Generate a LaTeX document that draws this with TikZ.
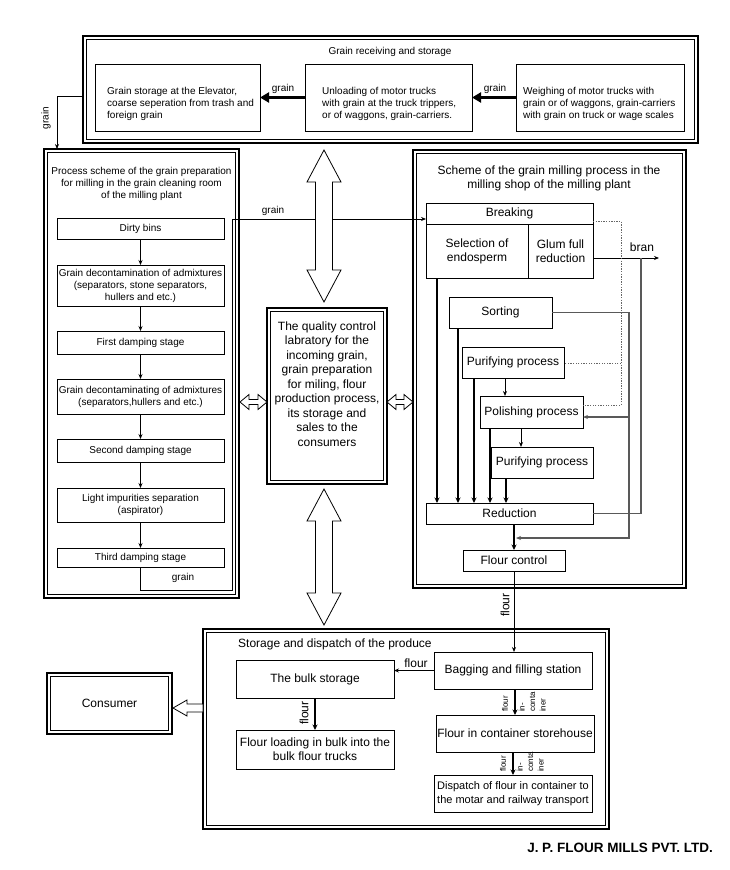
\documentclass[tikz,border=0pt]{standalone}
\usepackage{fontspec}
\setmainfont{Liberation Sans}
\usetikzlibrary{arrows.meta,calc}
\newcommand{\innerbox}[1]{\draw[line width=0.7pt] ($(#1.north west)+(3.5,3.5)$) rectangle ($(#1.south east)+(-3.5,-3.5)$);}
\begin{document}
\begin{tikzpicture}[x=1pt,y=-1pt,
  every node/.style={font=\fontsize{10pt}{12pt}\selectfont},
  fa/.style={font=\fontsize{12pt}{14pt}\selectfont},
  fb/.style={font=\fontsize{11pt}{14pt}\selectfont},
  fs/.style={font=\fontsize{8pt}{10.5pt}\selectfont},
  bx/.style={draw, line width=0.8pt, inner sep=0pt, outer sep=0pt, align=center},
  dbx/.style={draw, line width=1.1pt, inner sep=0pt, outer sep=0pt, align=center},
  txt/.style={inner sep=0pt, align=center},
  ar/.style={line width=0.8pt, -{Stealth[length=5pt,width=4pt]}},
  tk/.style={line width=1.5pt, -{Stealth[length=5.5pt,width=5pt]}},
  bigar/.style={line width=3pt, -{Triangle[length=9pt,width=10pt]}},
  gl/.style={draw=black!65, line width=1.3pt},
  gla/.style={gl, -{Stealth[length=5pt,width=4pt]}},
  dt/.style={draw=black!60, line width=1pt, dash pattern=on 1.3pt off 1.3pt},
  hol/.style={draw, line width=0.8pt, fill=white}
]
\fill[white] (0,0) rectangle (730,870);
\useasboundingbox (0,0) rectangle (730,870);

% ---------- top section ----------
\node[dbx, minimum width=615, minimum height=107] (top) at (390.5,89.5) {};
\innerbox{top}
\node[txt] (toptitle) at (390,52) {Grain receiving and storage};
\node[bx, minimum width=165, minimum height=67] (ga) at (177.5,97.5) {};
\node[txt, align=left, anchor=north west] (gat) at (107,87) {Grain storage at the Elevator,\\coarse seperation from trash and\\foreign grain};
\node[bx, minimum width=167, minimum height=67] (gb) at (388.5,97.5) {};
\node[txt, align=left, anchor=north west] (gbt) at (322,87) {Unloading of motor trucks\\with grain at the truck trippers,\\or of waggons, grain-carriers.};
\node[bx, minimum width=168, minimum height=67] (gc) at (600,97.5) {};
\node[txt, align=left, anchor=north west] (gct) at (523,87) {Weighing of motor trucks with\\grain or of waggons, grain-carriers\\with grain on truck or wage scales};
\draw[bigar] (gb.west) -- (ga.east);
\draw[bigar] (gc.west) -- (gb.east);
\node[txt] (lg1) at (283,89) {grain};
\node[txt] (lg2) at (495,89) {grain};

% ---------- left section ----------
\node[dbx, minimum width=195, minimum height=449] (left) at (141.5,373.5) {};
\innerbox{left}
\coordinate (tl) at (57,96);
\draw[ar] (top.west |- tl) -- (tl) -- (tl |- left.north);
\node[txt, rotate=90] (lg0) at (46,118) {grain};
\node[txt] (lt) at (141.5,184) {Process scheme of the grain preparation\\for milling in the grain cleaning room\\of the milling plant};
\node[bx, minimum width=167, minimum height=21] (b1) at (140.5,228.5) {Dirty bins};
\node[bx, minimum width=167, minimum height=41] (b2) at (140.5,285.5) {Grain decontamination of admixtures\\(separators, stone separators,\\hullers and etc.)};
\node[bx, minimum width=167, minimum height=23] (b3) at (140.5,342.5) {First damping stage};
\node[bx, minimum width=167, minimum height=35] (b4) at (140.5,396.5) {Grain decontaminating of admixtures\\(separators,hullers and etc.)};
\node[bx, minimum width=167, minimum height=23] (b5) at (140.5,450.5) {Second damping stage};
\node[bx, minimum width=167, minimum height=34] (b6) at (140.5,505) {Light impurities separation\\(aspirator)};
\node[bx, minimum width=167, minimum height=19] (b7) at (140.5,557.5) {Third damping stage};
\draw[ar] (b1) -- (b2);
\draw[ar] (b2) -- (b3);
\draw[ar] (b3) -- (b4);
\draw[ar] (b4) -- (b5);
\draw[ar] (b5) -- (b6);
\draw[ar] (b6) -- (b7);

% ---------- right section ----------
\node[dbx, minimum width=273, minimum height=438] (right) at (549.5,369) {};
\innerbox{right}
\node[txt, font=\fontsize{12pt}{13.5pt}\selectfont] (rt) at (549,178.5) {Scheme of the grain milling process in the\\milling shop of the milling plant};
\node[bx, fa, minimum width=167, minimum height=21] (brk) at (509.5,213.5) {Breaking};
\node[bx, fa, minimum width=102, minimum height=54] (sel) at (477,251) {Selection of\\endosperm};
\node[bx, fa, minimum width=65, minimum height=54] (glum) at (560.5,251) {Glum full\\reduction};
\node[bx, fa, minimum width=103, minimum height=31] (sort) at (500.5,312.5) {Sorting};
\node[bx, fa, minimum width=102, minimum height=31] (pur1) at (513,362.5) {Purifying process};
\node[bx, fa, minimum width=103, minimum height=32] (pol) at (531.5,412) {Polishing process};
\node[bx, fa, minimum width=102, minimum height=31] (pur2) at (542,462.5) {Purifying process};
\node[bx, fa, minimum width=167, minimum height=21] (red) at (509.5,513.5) {Reduction};
\node[bx, fa, minimum width=102, minimum height=21] (fc) at (514,560.5) {Flour control};

% grain from cleaning room to breaking
\coordinate (gcr) at (232,590);
\coordinate (gin) at (426,219);
\draw[ar] (b7.south) |- (gcr) |- (gin);
\node[txt] (lg3) at (183,578) {grain};
\node[txt] (lg4) at (273,211) {grain};

% arrows into reduction
\coordinate (xa) at (437,0);
\coordinate (xb) at (458,0);
\coordinate (xc) at (474,0);
\coordinate (xd) at (490,0);
\coordinate (xe) at (506,0);
\coordinate (xf) at (505,0);
\coordinate (xg) at (521,0);
\coordinate (fx) at (514,0);
\draw[tk] (sel.south -| xa) -- (red.north -| xa);
\draw[tk] (sort.south -| xb) -- (red.north -| xb);
\draw[tk] (pur1.south -| xc) -- (red.north -| xc);
\draw[tk] (pol.south -| xd) -- (red.north -| xd);
\draw[tk] (pur2.south -| xe) -- (red.north -| xe);
\draw[ar] (pur1.south -| xf) -- (pol.north -| xf);
\draw[ar] (pol.south -| xg) -- (pur2.north -| xg);
\draw[tk] (red.south -| fx) -- (fc.north -| fx);

% bran
\coordinate (bran) at (659,258);
\draw[ar] (glum.east |- bran) -- (bran);
\node[txt, fa] (lbran) at (642,247) {bran};
\coordinate (vb) at (641,258);
\draw[gl] (red.east) -| (vb);

% sorting return lines
\coordinate (vs) at (629,538);
\coordinate (fj) at (516,538);
\coordinate (vp) at (629,417);
\draw[gla] (sort.east) -| (vs) -- (fj);
\draw[gla] (vp) -- (vp -| pol.east);

% dotted lines
\coordinate (dt1) at (621,221);
\coordinate (dp) at (621,405);
\coordinate (dq) at (621,363);
\draw[dt] (brk.east |- dt1) -- (dt1) -- (dp) -- (dp -| pol.east);
\draw[dt] (dq) -- (dq -| pur1.east);

% ---------- laboratory ----------
\node[dbx, minimum width=120, minimum height=176] (lab) at (327,396) {};
\innerbox{lab}
\node[txt, font=\fontsize{12pt}{14.5pt}\selectfont] (labt) at (327,384) {The quality control\\labratory for the\\incoming  grain,\\grain preparation\\for miling, flour\\production process,\\its storage and\\sales to the\\consumers};

% big hollow double arrows
\draw[hol] (324,150) -- (341,182) -- (332.5,182) -- (332.5,270) -- (341,270) -- (324,302) -- (307,270) -- (315.5,270) -- (315.5,182) -- (307,182) -- cycle;
\draw[hol] (324,489) -- (341,521) -- (332.5,521) -- (332.5,593) -- (341,593) -- (324,625) -- (307,593) -- (315.5,593) -- (315.5,521) -- (307,521) -- cycle;
\draw[hol] (240,402) -- (249,394.5) -- (249,399.5) -- (258,399.5) -- (258,394.5) -- (267,402) -- (258,409.5) -- (258,404.5) -- (249,404.5) -- (249,409.5) -- cycle;
\draw[hol] (387,402) -- (396,394.5) -- (396,399.5) -- (404,399.5) -- (404,394.5) -- (413,402) -- (404,409.5) -- (404,404.5) -- (396,404.5) -- (396,409.5) -- cycle;

% ---------- bottom section ----------
\node[dbx, minimum width=406, minimum height=200] (bot) at (406,729) {};
\innerbox{bot}
\node[txt, fa, anchor=west] (bt) at (238,644) {Storage and dispatch of the produce};
\node[bx, fa, minimum width=158, minimum height=38] (bulk) at (315,679) {The bulk storage};
\node[bx, fa, minimum width=158, minimum height=39] (load) at (315,749.5) {Flour loading in bulk into the\\bulk flour trucks};
\node[bx, fa, minimum width=158, minimum height=37] (bag) at (513,670.5) {Bagging and filling station};
\node[bx, fa, minimum width=158, minimum height=37] (cont) at (515,733.5) {Flour in container storehouse};
\node[bx, fb, minimum width=158, minimum height=37] (disp) at (513,793.5) {Dispatch of flour in container to\\the motar and railway transport};

\draw[ar] (fc.south -| fx) -- (bag.north -| fx);
\node[txt, fa, rotate=90] (lf1) at (505,605) {flour};
\draw[ar] (bag.west) -- (bag.west -| bulk.east);
\node[txt, fa] (lf2) at (416,663) {flour};
\draw[tk] (bulk) -- (load);
\node[txt, fa, rotate=90] (lf3) at (304,713) {flour};
\coordinate (xm) at (515,0);
\coordinate (xn) at (513,0);
\draw[tk] (bag.south -| xm) -- (cont.north -| xm);
\draw[tk] (cont.south -| xn) -- (disp.north -| xn);
\node[txt, fs, rotate=90, anchor=west] (lc1) at (505,712) {flour};
\node[txt, fs, rotate=90, anchor=north west, align=left] (lc2) at (518.5,712) {in-\\conta\\iner};
\node[txt, fs, rotate=90, anchor=west] (lc3) at (503,772) {flour};
\node[txt, fs, rotate=90, anchor=north west, align=left] (lc4) at (516.5,772) {in-\\conta\\iner};

% consumer
\node[dbx, fa, minimum width=125, minimum height=61] (cons) at (109.5,703.5) {Consumer};
\innerbox{cons}
\draw[hol] (173,708) -- (187,700) -- (187,704) -- (203,704) -- (203,712) -- (187,712) -- (187,716) -- cycle;

% footer
\node[txt, font=\fontsize{13.5pt}{16pt}\selectfont\bfseries] (foot) at (620,848) {J. P. FLOUR MILLS PVT. LTD.};
\end{tikzpicture}
\end{document}
